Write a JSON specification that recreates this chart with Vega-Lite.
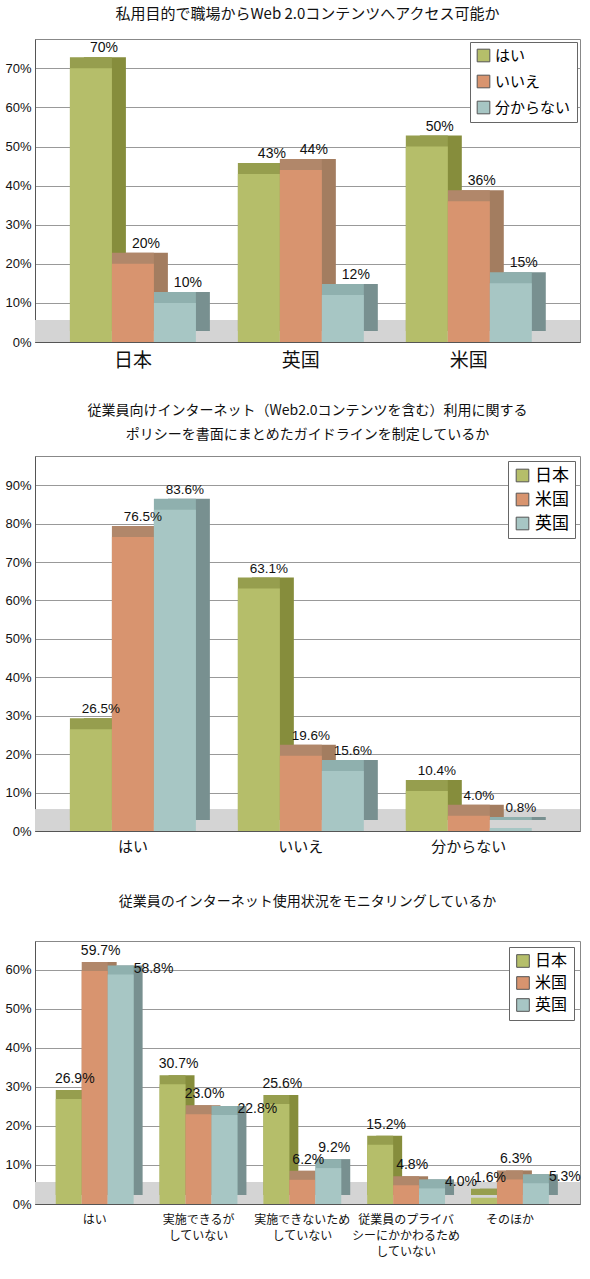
{
  "$schema": "https://vega.github.io/schema/vega-lite/v6.json",
  "padding": {"left": 4, "top": 6, "right": 1, "bottom": 0},
  "spacing": 30,
  "background": "white",
  "config": {
    "font": "Noto Sans CJK JP",
    "view": {"stroke": "#888", "strokeWidth": 1},
    "title": {"font": "Noto Sans CJK JP", "fontSize": 15, "fontWeight": "normal", "color": "#111", "anchor": "middle", "lineHeight": 24},
    "axis": {"labelFont": "Liberation Sans", "labelColor": "#111", "domainColor": "#555", "tickColor": "#555", "gridColor": "#999", "title": null},
    "axisY": {"labelFontSize": 13, "format": "%", "ticks": false, "labelPadding": 4},
    "axisX": {"labelFont": "Noto Sans CJK JP", "labelAngle": 0, "ticks": false, "domain": true},
    "legend": {"orient": "top-right", "offset": 4, "strokeColor": "#666", "fillColor": "white", "padding": 6, "symbolType": "square", "symbolSize": 160, "symbolStrokeColor": "#555", "symbolStrokeWidth": 1, "labelFont": "Noto Sans CJK JP", "labelFontSize": 15, "rowPadding": 6, "title": null}
  },
  "datasets": {
    "access": [
      {"country": "日本", "answer": "はい", "pct": 0.70, "label": "70%"},
      {"country": "日本", "answer": "いいえ", "pct": 0.20, "label": "20%"},
      {"country": "日本", "answer": "分からない", "pct": 0.10, "label": "10%"},
      {"country": "英国", "answer": "はい", "pct": 0.43, "label": "43%"},
      {"country": "英国", "answer": "いいえ", "pct": 0.44, "label": "44%"},
      {"country": "英国", "answer": "分からない", "pct": 0.12, "label": "12%"},
      {"country": "米国", "answer": "はい", "pct": 0.50, "label": "50%"},
      {"country": "米国", "answer": "いいえ", "pct": 0.36, "label": "36%"},
      {"country": "米国", "answer": "分からない", "pct": 0.15, "label": "15%"}
    ],
    "policy": [
      {"answer": "はい", "country": "日本", "pct": 0.265, "label": "26.5%"},
      {"answer": "はい", "country": "米国", "pct": 0.765, "label": "76.5%"},
      {"answer": "はい", "country": "英国", "pct": 0.836, "label": "83.6%"},
      {"answer": "いいえ", "country": "日本", "pct": 0.631, "label": "63.1%"},
      {"answer": "いいえ", "country": "米国", "pct": 0.196, "label": "19.6%"},
      {"answer": "いいえ", "country": "英国", "pct": 0.156, "label": "15.6%"},
      {"answer": "分からない", "country": "日本", "pct": 0.104, "label": "10.4%"},
      {"answer": "分からない", "country": "米国", "pct": 0.040, "label": "4.0%"},
      {"answer": "分からない", "country": "英国", "pct": 0.008, "label": "0.8%"}
    ],
    "monitor": [
      {"answer": "はい", "country": "日本", "pct": 0.269, "label": "26.9%"},
      {"answer": "はい", "country": "米国", "pct": 0.597, "label": "59.7%"},
      {"answer": "はい", "country": "英国", "pct": 0.588, "label": "58.8%"},
      {"answer": "実施できるが/していない", "country": "日本", "pct": 0.307, "label": "30.7%"},
      {"answer": "実施できるが/していない", "country": "米国", "pct": 0.230, "label": "23.0%"},
      {"answer": "実施できるが/していない", "country": "英国", "pct": 0.228, "label": "22.8%"},
      {"answer": "実施できないため/していない", "country": "日本", "pct": 0.256, "label": "25.6%"},
      {"answer": "実施できないため/していない", "country": "米国", "pct": 0.062, "label": "6.2%"},
      {"answer": "実施できないため/していない", "country": "英国", "pct": 0.092, "label": "9.2%"},
      {"answer": "従業員のプライバ/シーにかかわるため/していない", "country": "日本", "pct": 0.152, "label": "15.2%"},
      {"answer": "従業員のプライバ/シーにかかわるため/していない", "country": "米国", "pct": 0.048, "label": "4.8%"},
      {"answer": "従業員のプライバ/シーにかかわるため/していない", "country": "英国", "pct": 0.040, "label": "4.0%"},
      {"answer": "そのほか", "country": "日本", "pct": 0.016, "label": "1.6%"},
      {"answer": "そのほか", "country": "米国", "pct": 0.063, "label": "6.3%"},
      {"answer": "そのほか", "country": "英国", "pct": 0.053, "label": "5.3%"}
    ]
  },
  "vconcat": [
    {
      "title": {"text": "私用目的で職場からWeb 2.0コンテンツへアクセス可能か", "offset": 17},
      "width": 545,
      "height": 303,
      "data": {"name": "access"},
      "transform": [{"calculate": "datum.country + '|' + datum.answer", "as": "key"}],
      "encoding": {
        "x": {"field": "key", "type": "nominal",
              "scale": {"domain": ["日本|はい", "日本|いいえ", "日本|分からない", "gap1", "英国|はい", "英国|いいえ", "英国|分からない", "gap2", "米国|はい", "米国|いいえ", "米国|分からない"],
                        "paddingInner": 0, "paddingOuter": 0.99, "align": 0.42},
              "axis": {"values": ["日本|いいえ", "英国|いいえ", "米国|いいえ"], "labelExpr": "split(datum.value, '|')[0]",
                       "labelFontSize": 19, "labelPadding": 9, "minExtent": 30, "maxExtent": 30}},
        "y": {"field": "pct", "type": "quantitative",
              "scale": {"domain": [0, 0.775], "nice": false},
              "axis": {"values": [0, 0.1, 0.2, 0.3, 0.4, 0.5, 0.6, 0.7]}}
      },
      "layer": [
        {
          "mark": {"type": "rect", "color": "#d4d4d4"},
          "encoding": {"x": null, "y": {"datum": 0}, "y2": {"datum": 0.055}}
        },
        {
          "mark": {"type": "bar", "xOffset": 14, "yOffset": -11},
          "encoding": {"fill": {"field": "answer", "type": "nominal", "sort": ["はい", "いいえ", "分からない"],
                                "scale": {"range": ["#868d3c", "#a37d60", "#789090"]}, "legend": null}}
        },
        {
          "mark": {"type": "bar", "yOffset": -11},
          "encoding": {"fill": {"field": "answer", "type": "nominal", "sort": ["はい", "いいえ", "分からない"],
                                "scale": {"range": ["#969e4e", "#b1876a", "#8fb0ae"]}, "legend": null}}
        },
        {
          "mark": {"type": "bar"},
          "encoding": {"fill": {"field": "answer", "type": "nominal", "sort": ["はい", "いいえ", "分からない"],
                                "scale": {"range": ["#b5be6a", "#d8946f", "#a7c6c4"]},
                                "legend": {"labelFontSize": 15, "rowPadding": 9, "offset": 3}}}
        },
        {
          "mark": {"type": "text", "font": "Liberation Sans", "fontSize": 14, "color": "#111", "baseline": "middle", "dx": 13, "dy": -20},
          "encoding": {"text": {"field": "label"}}
        }
      ],
      "resolve": {"scale": {"fill": "independent"}}
    },
    {
      "title": {"text": ["従業員向けインターネット（Web2.0コンテンツを含む）利用に関する", "ポリシーを書面にまとめたガイドラインを制定しているか"], "fontSize": 14, "offset": 14},
      "width": 545,
      "height": 375,
      "data": {"name": "policy"},
      "transform": [{"calculate": "datum.answer + '|' + datum.country", "as": "key"}],
      "encoding": {
        "x": {"field": "key", "type": "nominal",
              "scale": {"domain": ["はい|日本", "はい|米国", "はい|英国", "gap1", "いいえ|日本", "いいえ|米国", "いいえ|英国", "gap2", "分からない|日本", "分からない|米国", "分からない|英国"],
                        "paddingInner": 0, "paddingOuter": 0.99, "align": 0.42},
              "axis": {"values": ["はい|米国", "いいえ|米国", "分からない|米国"], "labelExpr": "split(datum.value, '|')[0]",
                       "labelFontSize": 15, "labelPadding": 8, "minExtent": 32, "maxExtent": 32}},
        "y": {"field": "pct", "type": "quantitative",
              "scale": {"domain": [0, 0.976], "nice": false},
              "axis": {"values": [0, 0.1, 0.2, 0.3, 0.4, 0.5, 0.6, 0.7, 0.8, 0.9]}}
      },
      "layer": [
        {
          "mark": {"type": "rect", "color": "#d4d4d4"},
          "encoding": {"x": null, "y": {"datum": 0}, "y2": {"datum": 0.055}}
        },
        {
          "mark": {"type": "bar", "xOffset": 14, "yOffset": -11},
          "encoding": {"fill": {"field": "country", "type": "nominal", "sort": ["日本", "米国", "英国"],
                                "scale": {"range": ["#868d3c", "#a37d60", "#789090"]}, "legend": null}}
        },
        {
          "mark": {"type": "bar", "yOffset": -11},
          "encoding": {"fill": {"field": "country", "type": "nominal", "sort": ["日本", "米国", "英国"],
                                "scale": {"range": ["#969e4e", "#b1876a", "#8fb0ae"]}, "legend": null}}
        },
        {
          "mark": {"type": "bar"},
          "encoding": {"fill": {"field": "country", "type": "nominal", "sort": ["日本", "米国", "英国"],
                                "scale": {"range": ["#b5be6a", "#d8946f", "#a7c6c4"]},
                                "legend": {"labelFontSize": 17, "rowPadding": 6, "offset": 5}}}
        },
        {
          "mark": {"type": "text", "font": "Liberation Sans", "fontSize": 13.5, "color": "#111", "baseline": "middle", "dx": 10, "dy": -20},
          "encoding": {"text": {"field": "label"}}
        }
      ],
      "resolve": {"scale": {"fill": "independent"}}
    },
    {
      "title": {"text": "従業員のインターネット使用状況をモニタリングしているか", "fontSize": 14, "offset": 32},
      "width": 545,
      "height": 263,
      "data": {"name": "monitor"},
      "transform": [{"calculate": "datum.answer + '|' + datum.country", "as": "key"}],
      "encoding": {
        "x": {"field": "key", "type": "nominal",
              "scale": {"domain": ["はい|日本", "はい|米国", "はい|英国", "gap1",
                                   "実施できるが/していない|日本", "実施できるが/していない|米国", "実施できるが/していない|英国", "gap2",
                                   "実施できないため/していない|日本", "実施できないため/していない|米国", "実施できないため/していない|英国", "gap3",
                                   "従業員のプライバ/シーにかかわるため/していない|日本", "従業員のプライバ/シーにかかわるため/していない|米国", "従業員のプライバ/シーにかかわるため/していない|英国", "gap4",
                                   "そのほか|日本", "そのほか|米国", "そのほか|英国"],
                        "paddingInner": 0, "paddingOuter": 1.62, "align": 0.4},
              "axis": {"values": ["はい|米国", "実施できるが/していない|米国", "実施できないため/していない|米国", "従業員のプライバ/シーにかかわるため/していない|米国", "そのほか|米国"],
                       "labelExpr": "split(split(datum.value, '|')[0], '/')",
                       "labelFontSize": 12, "labelPadding": 10, "labelLineHeight": 16, "labelBaseline": "top"}},
        "y": {"field": "pct", "type": "quantitative",
              "scale": {"domain": [0, 0.674], "nice": false},
              "axis": {"values": [0, 0.1, 0.2, 0.3, 0.4, 0.5, 0.6]}}
      },
      "layer": [
        {
          "mark": {"type": "rect", "color": "#d4d4d4"},
          "encoding": {"x": null, "y": {"datum": 0}, "y2": {"datum": 0.055}}
        },
        {
          "mark": {"type": "bar", "xOffset": 9, "yOffset": -9},
          "encoding": {"fill": {"field": "country", "type": "nominal", "sort": ["日本", "米国", "英国"],
                                "scale": {"range": ["#868d3c", "#a37d60", "#789090"]}, "legend": null}}
        },
        {
          "mark": {"type": "bar", "yOffset": -9},
          "encoding": {"fill": {"field": "country", "type": "nominal", "sort": ["日本", "米国", "英国"],
                                "scale": {"range": ["#969e4e", "#b1876a", "#8fb0ae"]}, "legend": null}}
        },
        {
          "mark": {"type": "bar"},
          "encoding": {"fill": {"field": "country", "type": "nominal", "sort": ["日本", "米国", "英国"],
                                "scale": {"range": ["#b5be6a", "#d8946f", "#a7c6c4"]},
                                "legend": {"labelFontSize": 16, "rowPadding": 4, "offset": 6}}}
        },
        {
          "transform": [{"filter": "!(datum.country === '英国' && datum.answer !== '実施できないため/していない')"}],
          "mark": {"type": "text", "font": "Liberation Sans", "fontSize": 14, "color": "#111", "baseline": "middle", "dx": 6, "dy": -20},
          "encoding": {"text": {"field": "label"}}
        },
        {
          "transform": [{"filter": "datum.country === '英国' && datum.answer !== '実施できないため/していない'"}],
          "mark": {"type": "text", "font": "Liberation Sans", "fontSize": 14, "color": "#111", "baseline": "middle", "align": "left", "dx": 13, "dy": -6},
          "encoding": {"text": {"field": "label"}}
        }
      ],
      "resolve": {"scale": {"fill": "independent"}}
    }
  ]
}
